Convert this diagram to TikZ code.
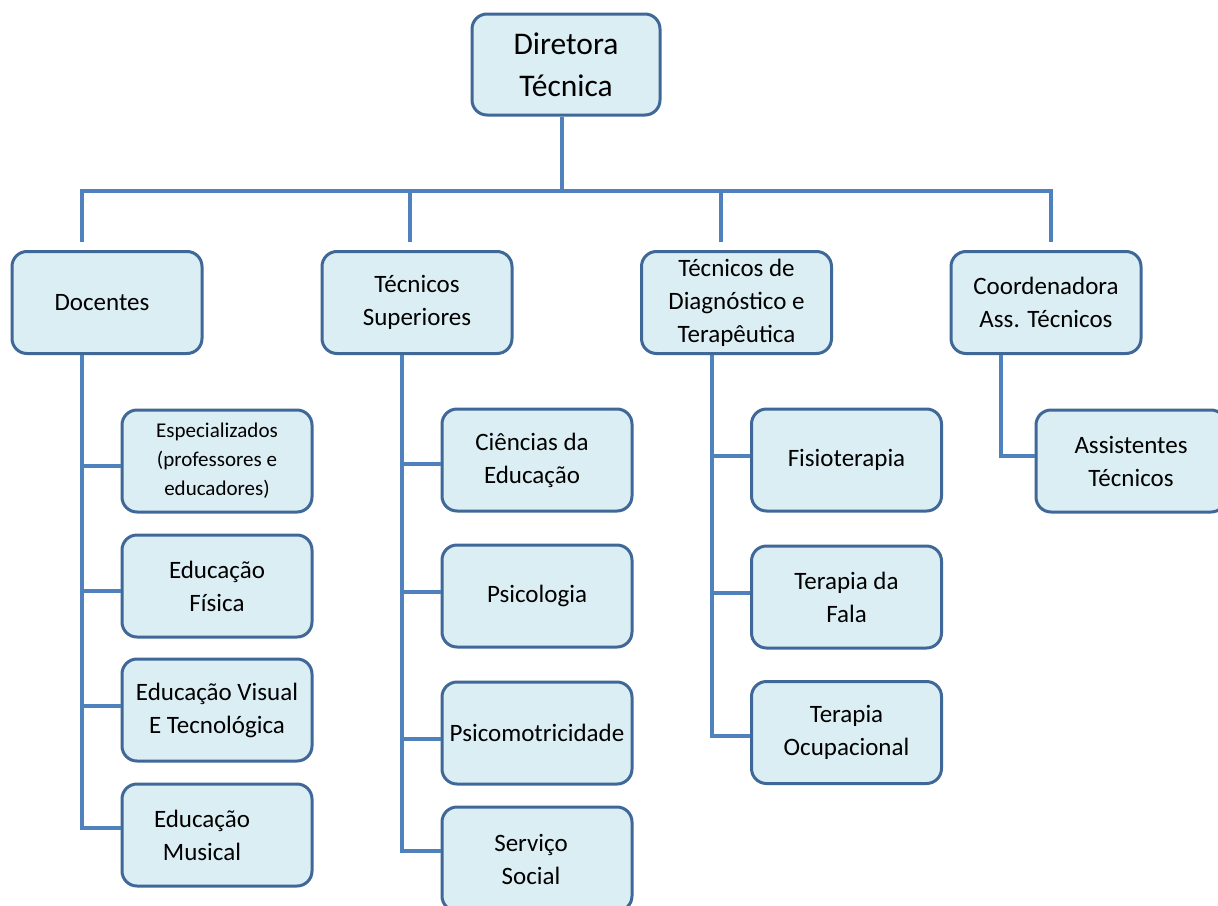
\documentclass[tikz,border=0pt]{standalone}
\usepackage{fontspec}
\setmainfont{Carlito}
\definecolor{boxfill}{HTML}{DBEEF4}
\definecolor{boxline}{HTML}{3F6797}
\definecolor{conn}{HTML}{4F81BD}
\begin{document}
\begin{tikzpicture}[x=1pt,y=-1pt,
  box/.style={draw=boxline, line width=3pt, fill=boxfill, rounded corners=15pt,
    minimum width=190pt, minimum height=102pt, inner sep=0pt, align=center,
    text=black, font=\fontsize{25}{33}\selectfont},
  link/.style={draw=conn, line width=4.5pt}]
\useasboundingbox (0,0) rectangle (1218,905);
\fill[white] (0,0) rectangle (1218,905);

% top
\node[box, minimum width=188pt, minimum height=101pt, font=\fontsize{31.5}{42}\selectfont] (dir) at (566,64.5) {Diretora\\Técnica};

% level 2
\node[box] (doc) at (107,302.5) {Docentes\hspace*{10pt}};
\node[box] (ts) at (417,302.5) {Técnicos\\Superiores};
\node[box] (td) at (736.5,302.5) {Técnicos de\\Diagnóstico e\\Terapêutica};
\node[box] (co) at (1046,302.5) {Coordenadora\\Ass. Técnicos};

% Docentes children
\node[box, font=\fontsize{21}{29}\selectfont] (d1) at (217,461) {Especializados\\(professores e\\educadores)};
\node[box] (d2) at (217,586) {Educação\\Física};
\node[box] (d3) at (217,710) {Educação Visual\\E Tecnológica};
\node[box] (d4) at (217,835) {Educação\hspace*{30pt}\\Musical\hspace*{30pt}};

% Tecnicos Superiores children
\node[box] (t1) at (537,460) {Ciências da\hspace*{10pt}\\Educação\hspace*{10pt}};
\node[box] (t2) at (537,596) {Psicologia};
\node[box] (t3) at (537,733) {Psicomotricidade};
\node[box, minimum height=104pt] (t4) at (537,859) {Serviço\hspace*{12pt}\\Social\hspace*{12pt}};

% Tecnicos de Diagnostico children
\node[box] (f1) at (846.5,460) {Fisioterapia};
\node[box] (f2) at (846.5,597) {Terapia da\\Fala};
\node[box] (f3) at (846.5,732.5) {Terapia\\Ocupacional};

% Coordenadora child
\node[box] (a1) at (1131,461) {Assistentes\\Técnicos};

% bus
\coordinate (b0) at (82,191);
\coordinate (b1) at (410,191);
\coordinate (b2) at (721,191);
\coordinate (b3) at (1051,191);
\coordinate (e0) at (82,242);
\coordinate (e1) at (410,242);
\coordinate (e2) at (721,242);
\coordinate (e3) at (1051,242);
\draw[link] (dir.south -| 562,0) -- (562,191);
\draw[link] (e0) -- (b0) -- (b3) -- (e3);
\draw[link] (b1) -- (e1);
\draw[link] (b2) -- (e2);

% trunks
\coordinate (dx) at (82,0);
\coordinate (tx) at (402,0);
\coordinate (fx) at (712,0);
\coordinate (cx) at (1001,0);

\draw[link] (doc.south -| dx) -- ([yshift=7pt]d4.west -| dx) -- ([yshift=7pt]d4.west);
\draw[link] ([yshift=-5pt]d1.west -| dx) -- ([yshift=-5pt]d1.west);
\draw[link] ([yshift=-5pt]d2.west -| dx) -- ([yshift=-5pt]d2.west);
\draw[link] ([yshift=4pt]d3.west -| dx) -- ([yshift=4pt]d3.west);

\draw[link] (ts.south -| tx) -- ([yshift=8pt]t4.west -| tx) -- ([yshift=8pt]t4.west);
\draw[link] ([yshift=-4pt]t1.west -| tx) -- ([yshift=-4pt]t1.west);
\draw[link] ([yshift=4pt]t2.west -| tx) -- ([yshift=4pt]t2.west);
\draw[link] ([yshift=-6pt]t3.west -| tx) -- ([yshift=-6pt]t3.west);

\draw[link] (td.south -| fx) -- ([yshift=-3.5pt]f3.west -| fx) -- ([yshift=-3.5pt]f3.west);
\draw[link] ([yshift=4pt]f1.west -| fx) -- ([yshift=4pt]f1.west);
\draw[link] ([yshift=4pt]f2.west -| fx) -- ([yshift=4pt]f2.west);

\draw[link] (co.south -| cx) -- ([yshift=5pt]a1.west -| cx) -- ([yshift=5pt]a1.west);
\end{tikzpicture}
\end{document}
